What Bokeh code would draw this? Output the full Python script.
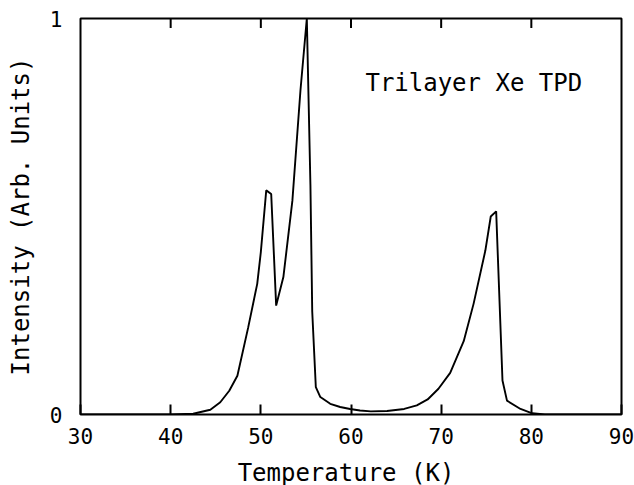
from bokeh.plotting import figure
from bokeh.models import Range1d, FixedTicker, Label, Div
from bokeh.layouts import column
from bokeh.embed import file_html
from bokeh.resources import INLINE

# Trilayer Xe thermal desorption spectrum
temperature = [30, 35, 40, 42.5, 44.4, 45.5, 46.5, 47.4, 48.6, 49.6, 50.0, 50.6,
               51.15, 51.7, 52.5, 53.5, 54.4, 55.1, 55.5, 55.7, 56.1, 56.6, 57.7,
               58.8, 59.9, 61.0, 62.2, 64.0, 65.9, 67.3, 68.5, 69.7, 71.0, 72.5,
               73.6, 74.9, 75.5, 76.1, 76.8, 77.3, 78.8, 80.1, 81.5, 85, 90]
intensity = [0, 0, 0, 0.002, 0.012, 0.031, 0.06, 0.098, 0.22, 0.33, 0.41, 0.566,
             0.557, 0.275, 0.347, 0.54, 0.82, 1.0, 0.58, 0.26, 0.069, 0.044, 0.027,
             0.019, 0.014, 0.01, 0.008, 0.009, 0.014, 0.023, 0.038, 0.065, 0.105, 0.185,
             0.28, 0.414, 0.50, 0.513, 0.086, 0.035, 0.014, 0.003, 0, 0, 0]

x_ticks = [30, 40, 50, 60, 70, 80, 90]
inner_x_ticks = [40, 50, 60, 70, 80]
y_ticks = [0, 1]
x_label = "Temperature (K)"
y_label = "Intensity (Arb. Units)"
title_text = "Trilayer Xe TPD"

FONT = "DejaVu Sans Mono"
X0, X1 = 30, 90
Y0, Y1 = 0, 1
TICK_LEN = 0.024  # inward tick length as a fraction of the y span

p = figure(width=634, height=455, x_range=Range1d(X0, X1), y_range=Range1d(Y0, Y1),
           output_backend="svg", toolbar_location=None,
           min_border_left=80, min_border_right=13, min_border_top=18,
           min_border_bottom=41)
p.background_fill_color = "white"
p.border_fill_color = "white"
p.outline_line_color = "black"
p.outline_line_width = 2
p.xgrid.visible = False
p.ygrid.visible = False

# bottom axis: tick labels with inward ticks
xa = p.xaxis[0]
xa.ticker = FixedTicker(ticks=x_ticks)
xa.axis_line_color = None
xa.major_tick_in = 10
xa.major_tick_out = 0
xa.major_tick_line_width = 2
xa.major_tick_line_color = "black"
xa.minor_tick_line_color = None
xa.major_label_standoff = 13
xa.major_label_text_font = FONT
xa.major_label_text_font_size = "21px"
xa.major_label_text_color = "black"

# left axis: labels 0 and 1 only
ya = p.yaxis[0]
ya.ticker = FixedTicker(ticks=y_ticks)
ya.axis_line_color = None
ya.major_tick_line_color = None
ya.minor_tick_line_color = None
ya.major_label_standoff = 12
ya.major_label_text_font = FONT
ya.major_label_text_font_size = "21px"
ya.major_label_text_color = "black"
ya.axis_label = y_label
ya.axis_label_text_font = FONT
ya.axis_label_text_font_size = "24px"
ya.axis_label_text_font_style = "normal"
ya.axis_label_text_color = "black"
ya.axis_label_standoff = 12

# inward tick marks on the top edge
n = len(inner_x_ticks)
p.segment(x0=inner_x_ticks, y0=[Y1] * n, x1=inner_x_ticks, y1=[Y1 - TICK_LEN] * n,
          line_color="black", line_width=2)

p.line(temperature, intensity, line_color="black", line_width=1.9)

p.add_layout(Label(x=61.6, y=0.838, text=title_text, text_font=FONT,
                   text_font_size="24px", text_color="black",
                   text_baseline="alphabetic"))

# x-axis title set in a strip beneath the plot, centred under the frame
xtitle = Div(text=(f'<div style="position:relative; top:8px; width:634px; '
                   f'box-sizing:border-box; padding-left:58px; '
                   f'text-align:center; font-family:\'{FONT}\'; font-size:24px; '
                   f'line-height:20px; color:black;">{x_label}</div>'),
             width=634, height=30, margin=0)

layout = column(p, xtitle, spacing=0)
open("out.html", "w").write(file_html(layout, INLINE))
